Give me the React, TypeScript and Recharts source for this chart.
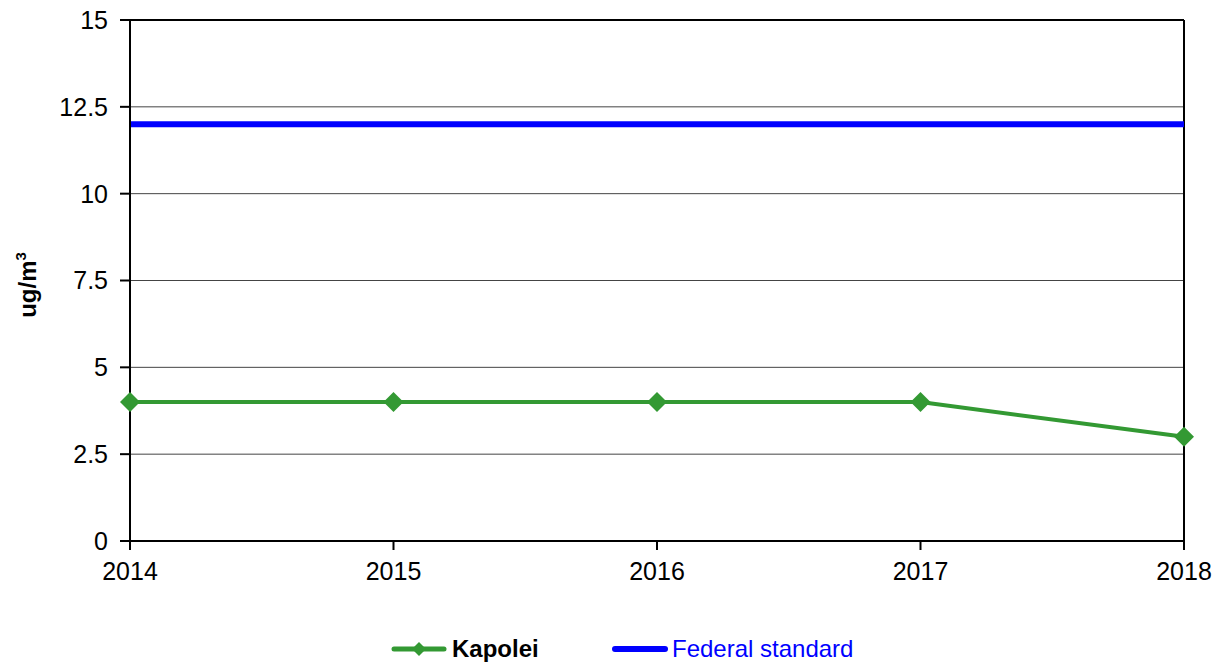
import React from "react";
import {
  LineChart,
  Line,
  XAxis,
  YAxis,
  CartesianGrid,
  ReferenceLine,
} from "recharts";

const years = ["2014", "2015", "2016", "2017", "2018"];
const kapolei = [4, 4, 4, 4, 3];
const federalStandard = [12, 12, 12, 12, 12];
const yTicks = [0, 2.5, 5, 7.5, 10, 12.5, 15];

const GREEN = "#339933";
const BLUE = "#0000ff";
const FONT = "'Liberation Sans', Arial, sans-serif";

const data = years.map((year, i) => ({
  year,
  kapolei: kapolei[i],
  federal: federalStandard[i],
}));

const Diamond = (props: any) => {
  const { cx, cy } = props;
  if (cx == null || cy == null) return null;
  const r = 10;
  return (
    <polygon
      points={`${cx},${cy - r} ${cx + r},${cy} ${cx},${cy + r} ${cx - r},${cy}`}
      fill={GREEN}
    />
  );
};

const YLabel = () => (
  <text
    transform="translate(36, 285) rotate(-90)"
    textAnchor="middle"
    fontFamily={FONT}
    fontWeight="bold"
    fontSize={24}
    fill="#000"
  >
    ug/m
    <tspan fontSize={15} dy={-10}>
      3
    </tspan>
  </text>
);

const Legend = () => (
  <div
    style={{
      position: "absolute",
      left: 391,
      top: 634,
      height: 30,
      display: "flex",
      alignItems: "center",
      fontFamily: FONT,
      fontSize: 24,
      whiteSpace: "nowrap",
    }}
  >
    <svg width={56} height={20} style={{ marginRight: 5 }}>
      <line x1={3} y1={10} x2={53} y2={10} stroke={GREEN} strokeWidth={5} strokeLinecap="round" />
      <polygon points="28,3 35,10 28,17 21,10" fill={GREEN} />
    </svg>
    <span style={{ fontWeight: "bold", color: "#000", width: 160 }}>Kapolei</span>
    <svg width={56} height={20} style={{ marginRight: 4 }}>
      <line x1={3} y1={10} x2={53} y2={10} stroke={BLUE} strokeWidth={6} strokeLinecap="round" />
    </svg>
    <span style={{ color: BLUE }}>Federal standard</span>
  </div>
);

export default function App() {
  return (
    <div style={{ position: "absolute", left: 0, top: 0, width: 1220, height: 665, background: "#fff" }}>
      <LineChart
        width={1220}
        height={665}
        data={data}
        margin={{ top: 20, right: 36, left: 0, bottom: 64 }}
      >
        <CartesianGrid vertical={false} stroke="#444" strokeWidth={1} />
        <XAxis
          dataKey="year"
          height={60}
          tickSize={9}
          tickMargin={12}
          stroke="#000"
          strokeWidth={2}
          fontSize={25}
          tick={{ fontSize: 25, fill: "#000", fontFamily: FONT }}
          padding={{ left: 0, right: 0 }}
          interval={0}
        />
        <YAxis
          width={130}
          domain={[0, 15]}
          ticks={yTicks}
          interval={0}
          tickSize={10}
          tickMargin={12}
          stroke="#000"
          strokeWidth={2}
          fontSize={25}
          tick={{ fontSize: 25, fill: "#000", fontFamily: FONT }}
          label={<YLabel />}
        />
        <ReferenceLine y={15} stroke="#000" strokeWidth={2} />
        <ReferenceLine x="2018" stroke="#000" strokeWidth={2} />
        <Line
          dataKey="federal"
          stroke={BLUE}
          strokeWidth={6}
          dot={false}
          activeDot={false}
          isAnimationActive={false}
        />
        <Line
          dataKey="kapolei"
          stroke={GREEN}
          strokeWidth={4}
          dot={<Diamond />}
          activeDot={false}
          isAnimationActive={false}
        />
      </LineChart>
      <Legend />
    </div>
  );
}
